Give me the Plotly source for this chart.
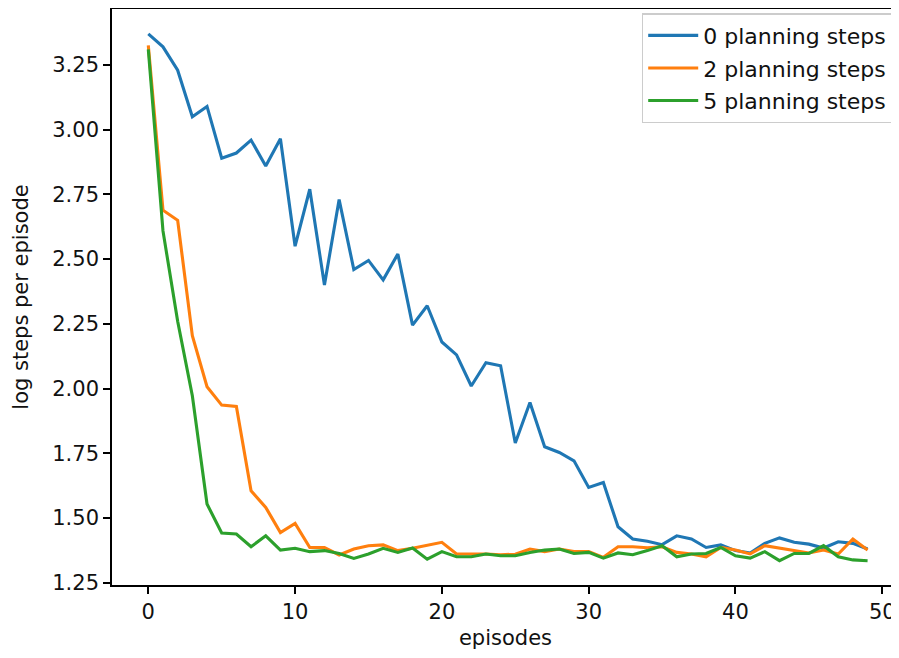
import plotly.graph_objects as go

episodes = list(range(50))

steps_0 = [3.37, 3.32, 3.23, 3.05, 3.09, 2.89, 2.91, 2.96, 2.86, 2.965,
           2.55, 2.77, 2.40, 2.73, 2.46, 2.495, 2.42, 2.52, 2.245, 2.32,
           2.18, 2.13, 2.01, 2.10, 2.088, 1.79, 1.946, 1.775, 1.753, 1.721,
           1.618, 1.637, 1.466, 1.419, 1.41, 1.397, 1.431, 1.419, 1.386, 1.396,
           1.374, 1.365, 1.402, 1.423, 1.406, 1.399, 1.384, 1.408, 1.402, 1.38]

steps_2 = [3.326, 2.689, 2.65, 2.204, 2.007, 1.936, 1.931, 1.605, 1.541, 1.444,
           1.479, 1.386, 1.386, 1.357, 1.38, 1.393, 1.396, 1.374, 1.383, 1.393,
           1.406, 1.361, 1.361, 1.361, 1.358, 1.36, 1.38, 1.37, 1.38, 1.37,
           1.37, 1.348, 1.389, 1.389, 1.385, 1.389, 1.367, 1.361, 1.35, 1.386,
           1.376, 1.361, 1.393, 1.384, 1.376, 1.365, 1.376, 1.361, 1.419, 1.376]

steps_5 = [3.31, 2.609, 2.26, 1.972, 1.554, 1.442, 1.438, 1.389, 1.431, 1.376,
           1.383, 1.37, 1.374, 1.363, 1.344, 1.361, 1.383, 1.367, 1.384, 1.341,
           1.37, 1.35, 1.35, 1.361, 1.354, 1.354, 1.367, 1.376, 1.38, 1.363,
           1.367, 1.345, 1.365, 1.358, 1.374, 1.393, 1.35, 1.361, 1.363, 1.386,
           1.354, 1.345, 1.37, 1.335, 1.363, 1.363, 1.393, 1.35, 1.338, 1.335]

series_names = ["0 planning steps", "2 planning steps", "5 planning steps"]
series_colors = ["#1f77b4", "#ff7f0e", "#2ca02c"]
x_ticks = [0, 10, 20, 30, 40, 50]
y_ticks = [1.25, 1.50, 1.75, 2.00, 2.25, 2.50, 2.75, 3.00, 3.25]

FONT = "DejaVu Sans"
FS = 21

fig = go.Figure()
for name, ys, col in zip(series_names, [steps_0, steps_2, steps_5], series_colors):
    fig.add_trace(go.Scatter(x=episodes, y=ys, mode="lines", name=name, legendgroup=name,
                             line=dict(color=col, width=3.1)))

axis_common = dict(showgrid=False, zeroline=False, showline=True, linecolor="black",
                   linewidth=1.6, mirror=True, ticks="outside", ticklen=7, tickwidth=1.6,
                   tickcolor="black", automargin=False,
                   tickfont=dict(family=FONT, size=FS, color="#111"),
                   title_font=dict(family=FONT, size=FS, color="#111"))

fig.update_xaxes(range=[-2.473, 51.14], tickvals=x_ticks, ticktext=[str(v) for v in x_ticks],
                 title_text="episodes", title_standoff=7, **axis_common)
fig.update_yaxes(range=[1.2411, 3.4664], tickvals=y_ticks, ticktext=[f"{v:.2f}" for v in y_ticks],
                 title_text="log steps per episode", title_standoff=18, **axis_common)

fig.update_layout(
    width=891, height=642,
    margin=dict(l=104, r=0, t=1, b=65, pad=0),
    plot_bgcolor="white", paper_bgcolor="white",
    font=dict(family=FONT, size=FS, color="#111"),
    showlegend=True,
    legend=dict(x=0.992, y=0.993, xanchor="right", yanchor="top",
                bgcolor="rgba(255,255,255,0.8)", bordercolor="#cccccc", borderwidth=1.5,
                itemwidth=50,
                font=dict(family=FONT, size=22, color="#111"), tracegroupgap=1),
)

fig.write_html("out.html")
